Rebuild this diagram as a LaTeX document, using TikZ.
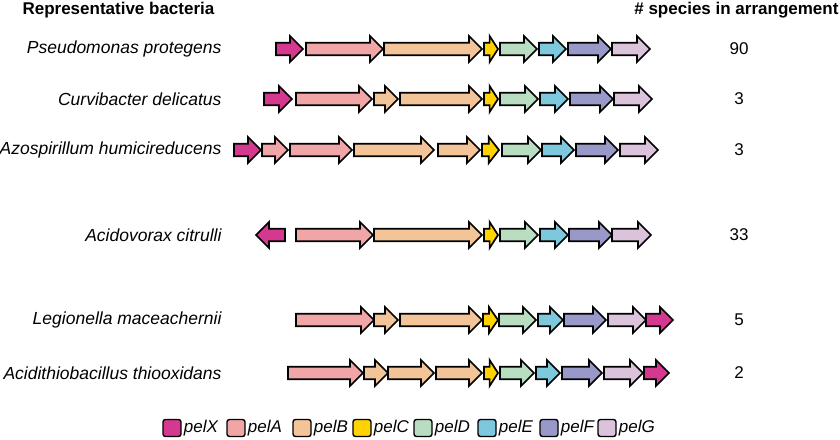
\documentclass[tikz,border=0pt]{standalone}
\usepackage{fontspec}
\setmainfont{Liberation Sans}
\definecolor{pelX}{HTML}{D4388F}
\definecolor{pelA}{HTML}{F0A6A6}
\definecolor{pelB}{HTML}{F3C498}
\definecolor{pelC}{HTML}{FFD200}
\definecolor{pelD}{HTML}{B8DDC0}
\definecolor{pelE}{HTML}{7DC8DD}
\definecolor{pelF}{HTML}{9899C8}
\definecolor{pelG}{HTML}{DBC3DB}
% one gene arrow: start, end, row, colour
\newcommand{\gene}[4]{%
  \pgfmathsetmacro{\hl}{(#2>#1 ? 1 : -1)*min(13,0.6*abs(#2-#1))}
  \draw[genearrow, fill=#4](#1,#3-6.3)--({#2-\hl},#3-6.3)--({#2-\hl},#3-13)--(#2,#3)
    --({#2-\hl},#3+13)--({#2-\hl},#3+6.3)--(#1,#3+6.3)--cycle;
}
\tikzset{
  genearrow/.style={draw=black, line width=1.7pt},
  species/.style={anchor=east, font=\fontsize{17.5}{20}\selectfont\itshape},
  count/.style={font=\fontsize{17}{20}\selectfont},
  header/.style={font=\fontsize{17}{20}\selectfont\bfseries},
  legbox/.style={draw=black, line width=1.4pt, rounded corners=2.5pt, minimum width=18pt, minimum height=17pt, inner sep=0pt},
  legtext/.style={anchor=west, inner sep=2pt, font=\fontsize{17}{20}\selectfont\itshape}
}
\begin{document}
\begin{tikzpicture}[x=1pt, y=-1pt]
\useasboundingbox(0,0)rectangle(840,439);
\node[header, anchor=west](hbact) at (19,10){Representative bacteria};
\node[header, anchor=east](hnum) at (842,10){\# species in arrangement};
% operons
\foreach \a/\b/\c in {276/303/pelX, 306/383/pelA, 384/482/pelB, 484/498/pelC, 500/537/pelD, 539/566/pelE, 568/611/pelF, 612/650/pelG}
    \gene{\a}{\b}{49}{\c};
\foreach \a/\b/\c in {264/292/pelX, 296/372/pelA, 374/398/pelB, 400/482/pelB, 484/498/pelC, 500/538/pelD, 540/568/pelE, 570/613/pelF, 614/652/pelG}
    \gene{\a}{\b}{99}{\c};
\foreach \a/\b/\c in {234/261/pelX, 262/288/pelA, 290/352/pelA, 354/434/pelB, 438/480/pelB, 482/499/pelC, 502/541/pelD, 542/574/pelE, 576/618/pelF, 620/658/pelG}
    \gene{\a}{\b}{150}{\c};
\foreach \a/\b/\c in {285/256/pelX, 296/373/pelA, 374/482/pelB, 484/498/pelC, 500/538/pelD, 540/568/pelE, 569/612/pelF, 612/651/pelG}
    \gene{\a}{\b}{235}{\c};
\foreach \a/\b/\c in {296/374/pelA, 374/398/pelB, 400/482/pelB, 483/498/pelC, 499/536/pelD, 538/563/pelE, 564/606/pelF, 608/646/pelG, 646/673/pelX}
    \gene{\a}{\b}{320}{\c};
\foreach \a/\b/\c in {288/363/pelA, 364/388/pelB, 388/434/pelB, 436/482/pelB, 484/498/pelC, 500/534/pelD, 536/560/pelE, 562/602/pelF, 604/643/pelG, 644/669/pelX}
    \gene{\a}{\b}{373}{\c};
% species and counts
\foreach \y/\name/\n/\k in {49/Pseudomonas protegens/90/a, 99/Curvibacter delicatus/3/b, 150/Azospirillum humicireducens/3/c, 235/Acidovorax citrulli/33/d, 320/Legionella maceachernii/5/e, 373/Acidithiobacillus thiooxidans/2/f}
{
    \node[species](sp\k) at (225,\y){\name};
    \node[count](num\k) at (739,\y){\n};
}
% legend
\foreach \x/\g in {172/X, 236/A, 302/B, 362/C, 423/D, 487/E, 549/F, 607/G}
{
    \node[legbox, fill=pel\g](leg\g) at (\x,428){};
    \node[legtext](lab\g) at (leg\g.east){pel\g};
}
\end{tikzpicture}
\end{document}
